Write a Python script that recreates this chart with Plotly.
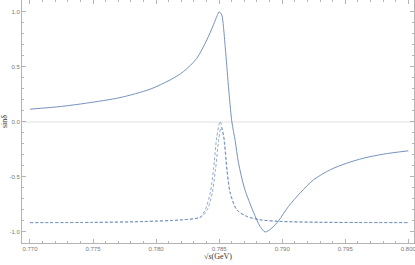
import plotly.graph_objects as go

# sqrt(s) in GeV and sin(delta)
x_solid = [0.7700, 0.7725, 0.7745, 0.77714, 0.77952, 0.78111, 0.78217, 0.78323,
           0.78402, 0.78455, 0.78485, 0.78500, 0.78521, 0.78534, 0.78548,
           0.78561, 0.78574, 0.78601, 0.78627, 0.78653, 0.78700, 0.78772,
           0.78825, 0.78865, 0.78918, 0.78971, 0.79050, 0.79143, 0.79249,
           0.79381, 0.79513, 0.79645, 0.79804, 0.80000]
y_solid = [0.115, 0.14, 0.17, 0.22, 0.296, 0.38, 0.456, 0.577,
           0.743, 0.88, 0.965, 1.0, 0.97, 0.864, 0.683,
           0.50, 0.32, 0.0, -0.17, -0.37, -0.60, -0.82,
           -0.95, -1.0, -0.964, -0.898, -0.768, -0.645, -0.526,
           -0.435, -0.375, -0.33, -0.293, -0.263]

x_dash = [0.7700, 0.7750, 0.7790, 0.7820, 0.78349, 0.78389, 0.78429, 0.78455,
          0.78482, 0.78508, 0.78535, 0.78561, 0.78587, 0.78640, 0.78720,
          0.78825, 0.78984, 0.7930, 0.7960, 0.8000]
y_dash = [-0.915, -0.913, -0.905, -0.89, -0.864, -0.80, -0.647, -0.435,
          -0.133, 0.003, -0.133, -0.435, -0.647, -0.80, -0.859,
          -0.889, -0.904, -0.912, -0.914, -0.915]

x_dash2 = [0.7700, 0.7750, 0.7790, 0.7820, 0.78355, 0.78405, 0.78445, 0.78471,
           0.78498, 0.78515, 0.78538, 0.78563, 0.78589, 0.78642, 0.78720,
           0.78825, 0.78984, 0.7930, 0.7960, 0.8000]
y_dash2 = [-0.915, -0.913, -0.905, -0.89, -0.866, -0.80, -0.647, -0.435,
           -0.15, -0.05, -0.14, -0.435, -0.647, -0.80, -0.859,
           -0.889, -0.904, -0.912, -0.914, -0.915]

line_color = "#5E81B5"
frame_color = "#b4b4b4"
tick_font = dict(family="Liberation Sans", size=6, color="#777777")

fig = go.Figure()
for xs, ys in [(x_dash, y_dash), (x_dash2, y_dash2)]:
    fig.add_trace(go.Scatter(x=xs, y=ys, mode="lines",
                             line=dict(color=line_color, width=1, dash="3px,2px",
                                       shape="spline", smoothing=0.8),
                             opacity=0.65, showlegend=False))
fig.add_trace(go.Scatter(x=x_solid, y=y_solid, mode="lines",
                         line=dict(color=line_color, width=1,
                                   shape="spline", smoothing=0.8),
                         opacity=0.85, showlegend=False))

fig.update_layout(
    width=415,
    height=265,
    margin=dict(l=22, r=1, t=0, b=22, autoexpand=False),
    plot_bgcolor="white",
    paper_bgcolor="white",
    xaxis=dict(
        range=[0.76937, 0.80045],
        tickmode="array",
        tickvals=[0.770, 0.775, 0.780, 0.785, 0.790, 0.795, 0.800],
        ticktext=["0.770", "0.775", "0.780", "0.785", "0.790", "0.795", "0.800"],
        ticks="inside", ticklen=4, tickcolor=frame_color, tickwidth=1,
        minor=dict(ticks="inside", ticklen=2, dtick=0.001, tickcolor=frame_color),
        showline=True, linecolor=frame_color, linewidth=1, mirror="ticks",
        showgrid=False, zeroline=False, tickfont=tick_font,
        automargin=False, ticklabeloverflow="allow",
        title=dict(text="√<i>s</i>(GeV)", standoff=2,
                   font=dict(family="Liberation Serif", size=8, color="#333333")),
    ),
    yaxis=dict(
        range=[-1.1, 1.106],
        tickmode="array",
        tickvals=[-1.0, -0.5, 0.0, 0.5, 1.0],
        ticktext=["-1.0", "-0.5", "0.0", "0.5", "1.0"],
        ticks="inside", ticklen=4, tickcolor=frame_color, tickwidth=1,
        minor=dict(ticks="inside", ticklen=2, dtick=0.1, tickcolor=frame_color),
        showline=True, linecolor=frame_color, linewidth=1, mirror="ticks",
        showgrid=False, zeroline=True, zerolinecolor="#f0f0f0", zerolinewidth=2,
        tickfont=tick_font,
        automargin=False, ticklabeloverflow="allow",
        title=dict(text="sinδ", standoff=3,
                   font=dict(family="Liberation Serif", size=8, color="#333333")),
    ),
)

fig.write_html("out.html", config={"displayModeBar": False},
               post_script="document.body.style.margin='0';")
